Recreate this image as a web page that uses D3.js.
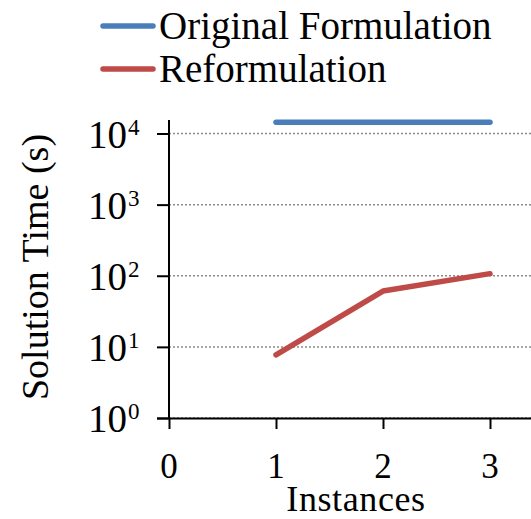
<!DOCTYPE html>
<html><head><meta charset="utf-8">
<script src="https://cdn.jsdelivr.net/npm/d3@7"></script>
<style>html,body{margin:0;padding:0;background:#fff}</style>
</head><body><svg id="c" width="531" height="519"></svg>
<script>
const instances = [1, 2, 3];
const originalTimes = [14400, 14400, 14400];
const reformTimes = [7.7, 61, 107];
const yTickExps = [0, 1, 2, 3, 4];
const xTicks = [0, 1, 2, 3];
const seriesNames = ["Original Formulation", "Reformulation"];
const seriesColors = ["#4a7ebb", "#be4b48"];

const svg = d3.select("#c");
const font = "'Liberation Serif', serif";
const x = d3.scaleLinear().domain([0, 3]).range([169, 490]);
const y = d3.scaleLog().domain([1, 10000]).range([418, 133.5]);
const yTop = y.invert(120);

// gridlines
svg.append("g").selectAll("line").data(yTickExps).join("line")
  .attr("x1", 169).attr("x2", 531)
  .attr("y1", d => y(Math.pow(10, d))).attr("y2", d => y(Math.pow(10, d)))
  .attr("stroke", "#8a8a8a").attr("stroke-width", 1.5).attr("stroke-dasharray", "2,2");

// y axis
const yAxis = d3.axisLeft(y).tickValues(yTickExps.map(e => Math.pow(10, e))).tickSize(12).tickFormat("");
const ga = svg.append("g").attr("transform", "translate(169,0)").call(yAxis);
ga.select(".domain").remove();
ga.selectAll(".tick line").attr("stroke", "#000").attr("stroke-width", 2);
svg.append("line").attr("x1", 169).attr("x2", 169).attr("y1", y(yTop)).attr("y2", 418)
  .attr("stroke", "#000").attr("stroke-width", 2);

// x axis
const xAxis = d3.axisBottom(x).tickValues(xTicks).tickSize(11).tickFormat("");
const gx = svg.append("g").attr("transform", "translate(0,418)").call(xAxis);
gx.select(".domain").remove();
gx.selectAll(".tick line").attr("stroke", "#000").attr("stroke-width", 2);
svg.append("line").attr("x1", 157).attr("x2", 531).attr("y1", 418.5).attr("y2", 418.5)
  .attr("stroke", "#000").attr("stroke-width", 2);

// y tick labels
svg.append("g").selectAll("text").data(yTickExps).join("text")
  .attr("x", 127).attr("y", d => y(Math.pow(10, d)) + 14)
  .attr("text-anchor", "end").attr("font-family", font).attr("font-size", 39).attr("fill", "#000")
  .text("10");
svg.append("g").selectAll("text").data(yTickExps).join("text")
  .attr("x", 128).attr("y", d => y(Math.pow(10, d)) + 1)
  .attr("font-family", font).attr("font-size", 23).attr("fill", "#000")
  .text(d => d);

// x tick labels
svg.append("g").selectAll("text").data(xTicks).join("text")
  .attr("x", d => x(d)).attr("y", 478)
  .attr("text-anchor", "middle").attr("font-family", font).attr("font-size", 35).attr("fill", "#000")
  .text(d => d);

// axis titles
svg.append("text").attr("x", 356).attr("y", 511).attr("text-anchor", "middle")
  .attr("font-family", font).attr("font-size", 36).attr("letter-spacing", 0.6).text("Instances");
svg.append("text").attr("transform", "translate(48,267) rotate(-90)").attr("text-anchor", "middle")
  .attr("font-family", font).attr("font-size", 38).text("Solution Time (s)");

// lines
const line = d3.line().x(d => x(d[0])).y(d => y(d[1]));
const series = [instances.map((v, i) => [v, originalTimes[i]]), instances.map((v, i) => [v, reformTimes[i]])];
svg.append("g").selectAll("path").data(series).join("path")
  .attr("d", line).attr("fill", "none")
  .attr("stroke", (d, i) => seriesColors[i]).attr("stroke-width", 5.5)
  .attr("stroke-linecap", "round").attr("stroke-linejoin", "round");

// legend
const lg = svg.append("g").selectAll("g").data(seriesNames).join("g")
  .attr("transform", (d, i) => `translate(0,${26 + i * 43})`);
lg.append("line").attr("x1", 103).attr("x2", 153).attr("y1", 0).attr("y2", 0)
  .attr("stroke", (d, i) => seriesColors[i]).attr("stroke-width", 5.5).attr("stroke-linecap", "round");
lg.append("text").attr("x", 159).attr("y", 13).attr("font-family", font).attr("font-size", 39)
  .text(d => d);
</script></body></html>
